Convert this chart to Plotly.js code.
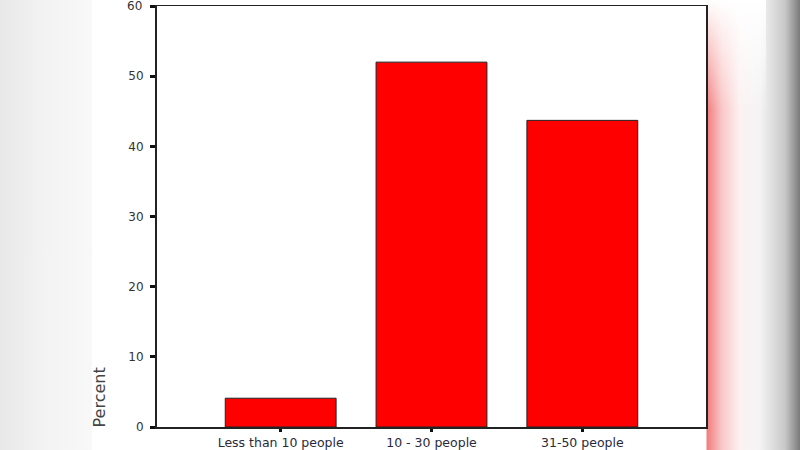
<!DOCTYPE html>
<html>
<head>
<meta charset="utf-8">
<script src="https://cdn.plot.ly/plotly-3.0.1.min.js"></script>
<style>
  body { margin: 0; }
  #chart {
    position: absolute; left: 0; top: 0; width: 800px; height: 450px;
    background:
      linear-gradient(to bottom, #fff 0px, rgba(255,255,255,0) 110px) 706px 0 / 60px 450px no-repeat,
      linear-gradient(to right, #e8e8e8 0px, #f3f3f3 45px, #f8f8f8 92px, #fff 92px, #fff 706px,
        #f27c7c 707px, #f9c8c8 722px, #fcf2f2 740px, #f4f4f4 760px, #c8c8c8 785px, #7a7a7a 800px);
  }
</style>
</head>
<body>
<div id="chart"></div>
<script>
var categories = ['Less than 10 people', '10 - 30 people', '31-50 people'];
var percents = [4.1, 52.0, 43.7];
var yTicks = [0, 10, 20, 30, 40, 50, 60];

var tickFont = { family: 'DejaVu Sans, Arial', size: 12, color: '#333' };

var data = [{
  x: categories,
  y: percents,
  type: 'bar',
  width: 0.735,
  marker: {
    color: '#ff0000',
    line: { color: '#222', width: 1 }
  },
  hoverinfo: 'none'
}];

var layout = {
  width: 800,
  height: 450,
  showlegend: false,
  paper_bgcolor: 'rgba(0,0,0,0)',
  plot_bgcolor: '#fff',
  margin: { l: 157, r: 94, t: 6, b: 23, pad: 0 },
  xaxis: {
    type: 'category',
    range: [-0.82, 2.82],
    showline: true,
    mirror: true,
    linecolor: '#222',
    linewidth: 1.5,
    ticks: 'outside',
    ticklen: 3,
    tickwidth: 3,
    tickcolor: '#111',
    showgrid: false,
    tickfont: { family: 'DejaVu Sans, Arial', size: 12.5, color: '#2a2a3a' }
  },
  yaxis: {
    range: [0, 60],
    tickvals: yTicks,
    ticktext: yTicks.map(String),
    showline: true,
    mirror: true,
    linecolor: '#222',
    linewidth: 2,
    ticks: 'outside',
    ticklen: 5,
    tickwidth: 3,
    tickcolor: '#111',
    ticklabelstandoff: 4,
    showgrid: false,
    zeroline: false,
    tickfont: tickFont
  },
  annotations: [{
    xref: 'paper', yref: 'paper',
    x: -0.105, y: -0.005,
    xanchor: 'center', yanchor: 'bottom',
    textangle: -90,
    text: 'Percent',
    showarrow: false,
    font: { family: 'DejaVu Sans, Arial', size: 16, color: '#444' }
  }]
};

// the top tick label is cut by the page edge, plotly hides it, so draw it as a note
var topTick = yTicks[yTicks.length - 1];
layout.annotations.push({
  xref: 'paper', yref: 'y',
  x: -0.024, y: topTick,
  xanchor: 'right', yanchor: 'middle',
  text: String(topTick),
  showarrow: false,
  font: tickFont
});

Plotly.newPlot('chart', data, layout, { staticPlot: true });
</script>
</body>
</html>
